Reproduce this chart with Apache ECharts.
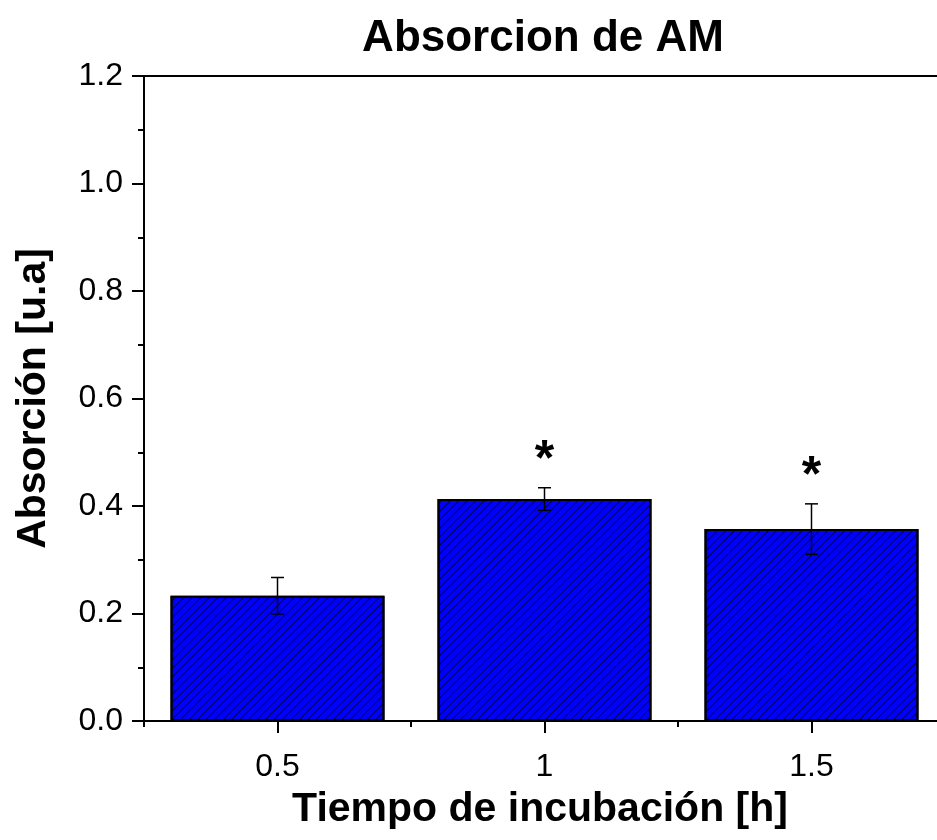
<!DOCTYPE html>
<html>
<head>
<meta charset="utf-8">
<script src="https://cdn.jsdelivr.net/npm/echarts@6/dist/echarts.min.js"></script>
<style>
    html, body { margin: 0; padding: 0; background: #fff; }
    #chart { width: 937px; height: 840px; }
</style>
</head>
<body>
<div id="chart"></div>
<script>
// datos
const tiempos = [0.5, 1, 1.5];
const absorcion = [0.233, 0.413, 0.357];
const errores = [0.034, 0.021, 0.047];
const significativo = [false, true, true];
const xLabels = [0.5, 1, 1.5];

const FONT = "'Liberation Sans', Arial, sans-serif";

const chart = echarts.init(document.getElementById("chart"), null, { renderer: "canvas" });

const barData = tiempos.map((t, i) => [t, absorcion[i]]);
const errData = tiempos.map((t, i) => [t, absorcion[i] - errores[i], absorcion[i] + errores[i]]);
const starData = tiempos
    .map((t, i) => [t, absorcion[i] + errores[i], significativo[i] ? 1 : 0])
    .filter(d => d[2] === 1);

const option = {
    animation: false,
    backgroundColor: "#fff",
    title: {
        text: "Absorcion de AM",
        left: 538,
        top: 12,
        textAlign: "center",
        textStyle: { fontFamily: FONT, fontSize: 44, fontWeight: "bold", color: "#000" }
    },
    grid: {
        left: 144,
        top: 76,
        width: 801,
        height: 645,
        show: true,
        borderColor: "#000",
        borderWidth: 2,
        outerBoundsMode: "none",
        containLabel: false
    },
    xAxis: [
        {
            type: "value",
            min: 0.25,
            max: 1.75,
            interval: 0.25,
            axisLine: { show: true, lineStyle: { color: "#000", width: 2 } },
            axisTick: { show: true, inside: false, length: 6, lineStyle: { color: "#000", width: 2 } },
            axisLabel: { show: false },
            splitLine: { show: false }
        },
        {
            type: "value",
            position: "bottom",
            min: 0.25,
            max: 1.75,
            interval: 0.25,
            axisLine: { show: false },
            axisTick: {
                show: true,
                length: 12,
                customValues: xLabels,
                lineStyle: { color: "#000", width: 2 }
            },
            axisLabel: {
                show: true,
                customValues: xLabels,
                margin: 30,
                fontFamily: FONT,
                fontSize: 32,
                color: "#000",
                formatter: v => String(v)
            },
            splitLine: { show: false },
            name: "Tiempo de incubación [h]",
            nameLocation: "middle",
            nameGap: 68,
            nameTextStyle: { fontFamily: FONT, fontSize: 41, fontWeight: "bold", color: "#000", padding: [0, 9, 0, 0] }
        }
    ],
    yAxis: {
        type: "value",
        min: 0,
        max: 1.2,
        interval: 0.2,
        axisLine: { show: true, lineStyle: { color: "#000", width: 2 } },
        axisTick: { show: true, inside: false, length: 12, lineStyle: { color: "#000", width: 2 } },
        minorTick: { show: true, splitNumber: 2, length: 6, lineStyle: { color: "#000", width: 2 } },
        axisLabel: {
            margin: 21,
            fontFamily: FONT,
            fontSize: 32,
            color: "#000",
            formatter: v => v.toFixed(1)
        },
        splitLine: { show: false },
        name: "Absorción [u.a]",
        nameLocation: "middle",
        nameRotate: 90,
        nameGap: 90,
        nameTextStyle: { fontFamily: FONT, fontSize: 41, fontWeight: "bold", color: "#000" }
    },
    series: [
        {
            type: "bar",
            xAxisIndex: 0,
            data: barData,
            barWidth: 214,
            itemStyle: {
                color: "#0000ff",
                borderColor: "#000",
                borderWidth: 2,
                decal: {
                    symbol: "rect",
                    symbolSize: 1,
                    color: "rgba(0,0,0,0.65)",
                    dashArrayX: [1, 0],
                    dashArrayY: [1, 5],
                    rotation: -Math.PI / 4
                }
            },
            z: 2
        },
        {
            type: "custom",
            xAxisIndex: 0,
            data: errData,
            z: 5,
            renderItem(params, api) {
                const x = api.coord([api.value(0), api.value(1)])[0];
                const yLow = api.coord([api.value(0), api.value(1)])[1];
                const yHigh = api.coord([api.value(0), api.value(2)])[1];
                const half = 6.5;
                const style = { stroke: "#000", lineWidth: 1.5 };
                return {
                    type: "group",
                    children: [
                        { type: "line", shape: { x1: x, y1: yLow, x2: x, y2: yHigh }, style },
                        { type: "line", shape: { x1: x - half, y1: yHigh, x2: x + half, y2: yHigh }, style },
                        { type: "line", shape: { x1: x - half, y1: yLow, x2: x + half, y2: yLow }, style }
                    ]
                };
            }
        },
        {
            type: "custom",
            xAxisIndex: 0,
            data: starData,
            z: 6,
            renderItem(params, api) {
                const p = api.coord([api.value(0), api.value(1)]);
                return {
                    type: "text",
                    x: p[0],
                    y: p[1] - 2,
                    style: {
                        text: "*",
                        fontFamily: FONT,
                        fontSize: 50,
                        fontWeight: "bold",
                        fill: "#000",
                        align: "center",
                        verticalAlign: "bottom"
                    }
                };
            }
        }
    ]
};

chart.setOption(option);
</script>
</body>
</html>
